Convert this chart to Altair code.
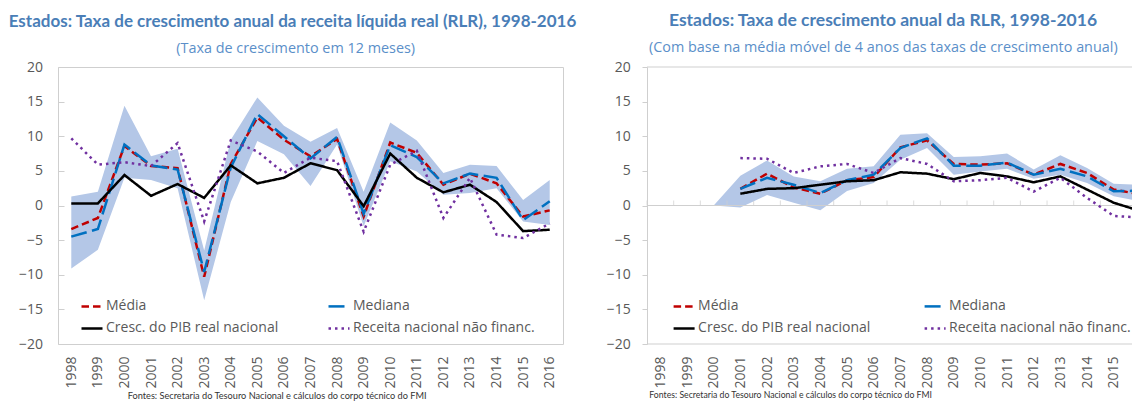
import altair as alt
import pandas as pd

years = list(range(1998, 2017))
series_names = ["Média", "Mediana", "Cresc. do PIB real nacional", "Receita nacional não financ."]
series_colors = ["#c00000", "#0070c0", "#000000", "#7030a0"]
series_dashes = [[7.5, 4], [16, 5.5], [1, 0], [2.5, 4]]
series_widths = [2.5, 2.5, 3.2, 3]

# ---- Left panel: annual growth (12 months) ----
l_media = [-3.4, -1.8, 8.6, 5.7, 5.4, -10.3, 6.0, 12.7, 9.5, 7.1, 9.6, -1.6, 9.1, 7.6, 3.0, 4.6, 3.2, -1.6, -0.7]
l_mediana = [-4.5, -3.4, 8.8, 5.8, 5.2, -9.6, 5.5, 13.2, 10.0, 6.8, 9.9, -1.2, 8.7, 7.0, 3.2, 4.6, 4.0, -2.1, 0.6]
l_pib = [0.3, 0.3, 4.4, 1.4, 3.1, 1.1, 5.8, 3.2, 4.0, 6.1, 5.1, -0.1, 7.5, 4.0, 1.9, 3.0, 0.5, -3.7, -3.5]
l_receita = [9.7, 5.9, 6.25, 5.7, 9.0, -2.3, 9.4, 7.8, 4.7, 6.9, 6.4, -3.8, 5.9, 7.9, -1.8, 4.0, -4.2, -4.7, -2.6]
l_upper = [1.3, 2.0, 14.4, 7.1, 8.2, -6.5, 9.5, 15.6, 11.5, 9.2, 11.2, 2.0, 12.0, 9.4, 4.7, 5.9, 5.7, 0.8, 3.7]
l_lower = [-9.1, -6.4, 4.0, 3.7, 2.5, -13.7, 0.5, 9.3, 7.4, 2.8, 8.8, -3.0, 6.4, 4.9, 1.55, 1.8, 2.5, -2.3, -2.8]

# ---- Right panel: 4-year moving average ----
r_media = [None, None, None, 2.4, 4.6, 2.6, 1.7, 3.65, 4.1, 8.4, 9.4, 6.0, 5.9, 6.1, 4.45, 6.0, 4.7, 2.3, 1.6]
r_mediana = [None, None, None, 2.4, 4.0, 3.0, 1.8, 3.65, 4.45, 8.3, 9.7, 5.75, 5.75, 6.2, 4.45, 5.3, 4.2, 2.05, 2.15]
r_pib = [None, None, None, 1.7, 2.4, 2.5, 3.0, 3.5, 3.65, 4.8, 4.6, 3.8, 4.7, 4.2, 3.35, 4.2, 2.3, 0.4, -0.8]
r_receita = [None, None, None, 6.85, 6.75, 4.7, 5.65, 6.0, 4.7, 6.85, 6.0, 3.5, 3.65, 4.0, 2.0, 4.0, 1.1, -1.5, -1.75]
r_upper = [None, None, 0, 4.3, 6.5, 4.2, 3.5, 5.3, 5.65, 10.2, 10.45, 7.0, 7.1, 7.5, 5.2, 7.25, 5.4, 3.15, 3.0]
r_lower = [None, None, 0, -0.3, 1.5, 0.4, -0.7, 2.1, 3.25, 6.6, 8.3, 4.45, 4.9, 5.3, 3.85, 4.45, 3.25, 1.35, 0.6]

y_ticks = [-20, -15, -10, -5, 0, 5, 10, 15, 20]

titles = {
    "l_title": "Estados: Taxa de crescimento anual da receita líquida real (RLR), 1998-2016",
    "l_sub": "(Taxa de crescimento em 12 meses)",
    "r_title": "Estados: Taxa de crescimento anual da RLR, 1998-2016",
    "r_sub": "(Com base na média móvel de 4 anos das taxas de crescimento anual)",
    "fonte": "Fontes: Secretaria do Tesouro Nacional e cálculos do corpo técnico do FMI",
}

GRAY = "#595959"
BORDER = "#cfcfcf"
PLOT_H = 277
L_W = 505
R_W = 485
STEP = 26.67  # pixels per year, same as left panel


def lines_df(vals_list):
    rows = []
    for name, vals in zip(series_names, vals_list):
        for yr, v in zip(years, vals):
            if v is not None:
                rows.append({"ano": yr, "serie": name, "valor": v})
    return pd.DataFrame(rows)


def band_df(lo, hi):
    return pd.DataFrame(
        [{"ano": yr, "lo": a, "hi": b} for yr, a, b in zip(years, lo, hi) if a is not None]
    )


def text_layer(txt, x, y, size, color, font, weight="normal", align="left"):
    return alt.Chart(pd.DataFrame({"t": [txt]})).mark_text(
        align=align, baseline="middle", fontSize=size, font=font, fontWeight=weight, color=color
    ).encode(text="t:N", x=alt.value(x), y=alt.value(y))


def panel(left_style, lines, lo, hi, legend_x, col_pad, texts):
    common_x = dict(title=None, labelAngle=270, ticks=False, tickSize=0, domain=False,
                    labelPadding=12, grid=False, labelFont="Open Sans", labelFontSize=14,
                    labelColor=GRAY)
    if left_style:
        width = L_W
        x = alt.X("ano:O", scale=alt.Scale(domain=years, padding=0.5), axis=alt.Axis(**common_x))
        yaxis = alt.Axis(title=None, values=y_ticks, grid=False, domain=False, offset=-6,
                         tickSize=6, tickColor=BORDER, labelPadding=15.6,
                         labelFont="Open Sans", labelFontSize=14, labelColor=GRAY)
    else:
        width = R_W
        x = alt.X("ano:Q",
                  scale=alt.Scale(domain=[years[0] - 0.5, years[0] - 0.5 + R_W / STEP], nice=False, zero=False),
                  axis=alt.Axis(values=years[:-1], format="d", labelFlush=False, labelOverlap=False,
                                **common_x))
        yaxis = alt.Axis(title=None, values=y_ticks, grid=False, domain=True, domainColor=BORDER,
                         tickSize=5, tickColor=BORDER, labelPadding=11.7,
                         labelFont="Open Sans", labelFontSize=14, labelColor=GRAY)
    yscale = alt.Scale(domain=[-20, 20], nice=False)

    band = alt.Chart(band_df(lo, hi)).mark_area(color="#b4c7e7", opacity=1, clip=True).encode(
        x=x,
        y=alt.Y("lo:Q", scale=yscale, axis=yaxis),
        y2="hi:Q",
    )

    leg = alt.Legend(title=None, orient="none", legendX=legend_x, legendY=227.4, columns=2,
                     direction="horizontal", columnPadding=col_pad, rowPadding=3,
                     symbolType="stroke", symbolSize=441, labelLimit=400,
                     labelFont="Open Sans", labelFontSize=14, labelColor=GRAY, labelOffset=2,
                     padding=0)
    line = alt.Chart(lines_df(lines)).mark_line(clip=True).encode(
        x=x,
        y=alt.Y("valor:Q", scale=yscale, axis=yaxis),
        color=alt.Color("serie:N", scale=alt.Scale(domain=series_names, range=series_colors),
                        legend=leg, sort=series_names),
        strokeDash=alt.StrokeDash("serie:N", scale=alt.Scale(domain=series_names, range=series_dashes),
                                  legend=leg, sort=series_names),
        strokeWidth=alt.StrokeWidth("serie:N", scale=alt.Scale(domain=series_names, range=series_widths),
                                    legend=leg, sort=series_names),
        order=alt.Order("ano:Q"),
    )

    layers = [band]
    if not left_style:
        edges = alt.Chart(pd.DataFrame({"v": [20, 0, -20]})).mark_rule(color=BORDER, strokeWidth=1).encode(
            y=alt.Y("v:Q", scale=yscale, axis=yaxis)
        )
        ticks = alt.Chart(pd.DataFrame({"ano": years[:-1], "v": [0] * (len(years) - 1)})).mark_tick(
            orient="vertical", color=BORDER, size=5, thickness=1, yOffset=-2.5, xOffset=-STEP / 2,
        ).encode(x=x, y=alt.Y("v:Q", scale=yscale, axis=yaxis))
        layers += [edges, ticks]
    layers.append(line)
    layers += texts
    return alt.layer(*layers).properties(width=width, height=PLOT_H)


left_texts = [
    text_layer(titles["l_title"], -49.3, -45, 17, "#4a7eb7", "Lato", "bold", "left"),
    text_layer(titles["l_sub"], 237.7, -18, 14.4, "#5b8fc9", "Open Sans", "normal", "center"),
    text_layer(titles["fonte"], 69.7, 329, 9.2, "#333333", "Lato", "normal", "left"),
]
right_texts = [
    text_layer(titles["r_title"], 236, -46, 17.5, "#4a7eb7", "Lato", "bold", "center"),
    text_layer(titles["r_sub"], 236.3, -19, 14.4, "#5b8fc9", "Open Sans", "normal", "center"),
    text_layer(titles["fonte"], 2.3, 328, 8.7, "#333333", "Lato", "normal", "left"),
]

left = panel(True, [l_media, l_mediana, l_pib, l_receita], l_lower, l_upper,
             22, 44, left_texts).properties(view=alt.ViewBackground(stroke=BORDER, strokeWidth=1))
right = panel(False, [r_media, r_mediana, r_pib, r_receita], r_lower, r_upper,
              25.1, 48, right_texts).properties(view=alt.ViewBackground(stroke=None))

chart = alt.hconcat(left, right, spacing=84, bounds="flush").resolve_legend(
    color="independent", strokeDash="independent", strokeWidth="independent"
).configure(
    padding={"left": 0, "top": 4, "right": 0, "bottom": 0},
    background="white",
)

chart.save("out.html", embed_options={"renderer": "svg", "actions": False})
